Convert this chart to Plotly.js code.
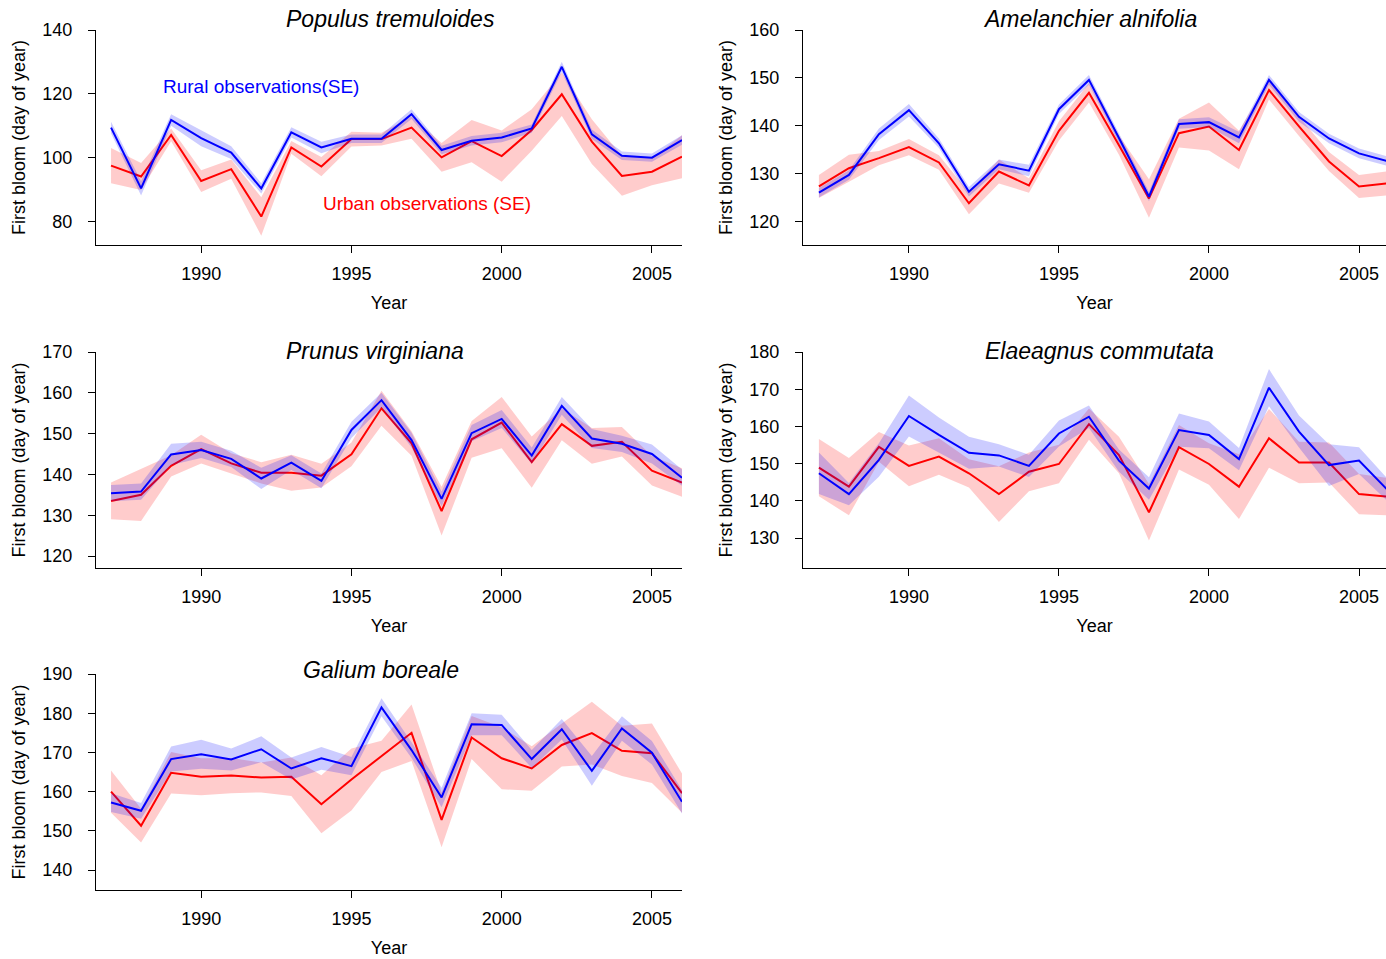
<!DOCTYPE html>
<html><head><meta charset="utf-8">
<script src="https://cdn.plot.ly/plotly-3.0.1.min.js"></script>
<style>html,body{margin:0;padding:0;background:#fff}#chart{width:1386px;height:959px}</style>
</head><body><div id="chart"></div>
<script>
const years = [1987,1988,1989,1990,1991,1992,1993,1994,1995,1996,1997,1998,1999,2000,2001,2002,2003,2004,2005,2006];
const xTicks = [1990,1995,2000,2005];
const speciesNames = ["Populus tremuloides","Amelanchier alnifolia","Prunus virginiana","Elaeagnus commutata","Galium boreale"];

const ruralMean1 = [109.5,90.5,111.9,106.2,101.7,90.5,108.0,103.3,106.0,106.0,113.7,102.5,105.4,106.4,109.2,128.5,107.4,100.7,100.1,105.6];
const ruralSE1   = [1.8,2.2,1.8,2.5,2.0,1.6,1.6,1.8,1.3,1.3,1.5,1.3,1.5,1.5,1.3,1.6,1.5,1.3,1.3,1.5];
const urbanMean1 = [97.6,94.2,107.2,92.8,96.5,81.7,103.3,97.3,105.9,105.9,109.5,100.2,105.3,100.6,108.75,119.9,105.1,94.4,95.7,100.4];
const urbanSE1   = [5.5,4.2,2.0,3.4,3.0,6.0,2.0,3.0,2.3,2.0,3.5,4.5,6.6,8.0,6.5,6.8,7.0,6.2,4.2,6.7];
const yTicks1 = [80,100,120,140];

const ruralMean2 = [126.1,129.8,138.3,143.3,136.4,126.3,132.0,130.7,143.5,149.6,137.5,125.3,140.4,140.8,137.6,149.6,141.9,137.4,134.3,132.6];
const ruralSE2   = [1.0,1.0,1.2,1.3,1.0,1.0,1.0,1.2,1.0,1.0,1.0,1.0,1.0,1.0,1.2,1.0,1.0,1.0,1.0,1.0];
const urbanMean2 = [127.4,131.2,133.3,135.6,132.4,123.9,130.5,127.6,139.0,146.9,136.0,124.9,138.5,139.9,135.0,147.5,139.9,132.6,127.4,128.1];
const urbanSE2   = [2.4,2.8,1.5,1.7,1.5,2.3,2.5,1.5,2.0,2.0,2.0,4.0,3.0,5.0,4.0,2.0,2.0,2.0,2.4,2.5];
const yTicks2 = [120,130,140,150,160];

const ruralMean3 = [135.4,135.8,144.9,146.0,143.8,139.0,142.9,138.4,150.9,158.2,148.4,134.0,150.1,153.6,144.6,156.8,148.8,147.5,145.0,139.2];
const ruralSE3   = [2.0,2.0,2.6,2.0,2.0,2.6,1.8,1.8,2.0,1.8,1.8,1.8,2.0,2.2,2.0,2.2,2.3,2.0,2.3,2.0];
const urbanMean3 = [133.5,135.0,142.1,146.2,142.7,140.4,140.4,139.7,144.9,156.2,147.6,131.0,148.6,152.7,143.0,152.3,147.0,148.0,140.9,138.0];
const urbanSE3   = [4.5,6.4,2.6,3.5,2.5,2.6,4.4,2.9,2.9,4.3,3.0,6.0,4.5,6.3,6.3,3.9,4.4,3.6,3.6,3.5];
const yTicks3 = [120,130,140,150,160,170];

const ruralMean4 = [147.4,141.8,151.0,162.8,157.7,152.9,152.2,149.4,158.1,162.6,150.8,143.3,159.0,157.7,151.2,170.4,158.6,149.6,150.8,142.5];
const ruralSE4   = [5.6,3.0,4.5,5.5,4.7,4.3,3.0,3.0,3.5,3.0,3.0,3.0,4.5,3.6,3.0,5.0,4.3,5.6,3.6,3.0];
const urbanMean4 = [148.9,143.8,154.5,149.4,151.9,147.4,141.8,147.8,149.9,160.6,152.3,136.9,154.4,149.9,143.8,156.8,150.3,150.3,141.8,141.1];
const urbanSE4   = [7.7,7.7,4.0,5.5,4.9,3.8,7.5,5.2,5.2,4.2,4.9,7.6,6.0,5.6,8.7,7.9,5.6,5.4,5.4,5.0];
const yTicks4 = [130,140,150,160,170,180];

const ruralMean5 = [157.2,155.1,168.3,169.5,168.2,170.8,165.9,168.5,166.5,181.5,170.6,158.5,177.2,177.0,168.3,175.9,165.3,176.1,169.9,157.4];
const ruralSE5   = [2.4,2.0,3.2,3.7,2.8,3.3,2.8,2.9,2.3,2.3,2.0,2.5,2.8,2.6,2.3,2.6,3.8,3.1,3.0,3.0];
const urbanMean5 = [160.0,151.3,164.8,163.8,164.1,163.6,163.8,156.8,163.1,169.0,175.0,152.8,173.8,168.5,165.9,171.9,174.9,170.4,169.8,159.6];
const urbanSE5   = [5.4,4.3,5.3,4.7,4.5,3.8,4.9,7.4,7.9,4.0,7.2,7.0,5.5,7.9,5.7,5.5,8.0,6.4,7.6,5.0];
const yTicks5 = [140,150,160,170,180,190];

const W = 1386, H = 959;
const FONT = "Liberation Sans, Arial, sans-serif";

// panel geometry (pixels)
const panels = [
  {name:speciesNames[0], rm:ruralMean1, rs:ruralSE1, um:urbanMean1, us:urbanSE1, yt:yTicks1, yr:[72.8,140], left:96, right:682, top:30, bottom:245, xr:[1986.5,2006], tx:391, ty:19},
  {name:speciesNames[1], rm:ruralMean2, rs:ruralSE2, um:urbanMean2, us:urbanSE2, yt:yTicks2, yr:[115.2,160], left:803, right:1386, top:30, bottom:245, xr:[1986.47,2005.9], tx:1090, ty:19},
  {name:speciesNames[2], rm:ruralMean3, rs:ruralSE3, um:urbanMean3, us:urbanSE3, yt:yTicks3, yr:[117.06,170], left:96, right:682, top:352, bottom:568, xr:[1986.5,2006], tx:375, ty:351},
  {name:speciesNames[3], rm:ruralMean4, rs:ruralSE4, um:urbanMean4, us:urbanSE4, yt:yTicks4, yr:[121.94,180], left:803, right:1386, top:352, bottom:568, xr:[1986.47,2005.9], tx:1099, ty:351},
  {name:speciesNames[4], rm:ruralMean5, rs:ruralSE5, um:urbanMean5, us:urbanSE5, yt:yTicks5, yr:[134.9,190], left:96, right:682, top:674, bottom:890, xr:[1986.5,2006], tx:381, ty:670}
];

const data = [];
const layout = {
  width: W, height: H,
  margin: {l:0, r:0, t:0, b:0},
  paper_bgcolor: "#fff", plot_bgcolor: "rgba(0,0,0,0)",
  showlegend: false,
  font: {family: FONT, size: 18, color: "#000"},
  annotations: []
};

function band(x, m, s) {
  const up = m.map((v,i)=>v+s[i]);
  const lo = m.map((v,i)=>v-s[i]);
  return {x: x.concat(x.slice().reverse()), y: up.concat(lo.slice().reverse())};
}

panels.forEach((p, i) => {
  const k = i + 1;
  const xa = k === 1 ? "x" : "x" + k;
  const ya = k === 1 ? "y" : "y" + k;
  const ub = band(years, p.um, p.us);
  const rb = band(years, p.rm, p.rs);
  data.push({type:"scatter", mode:"lines", x:ub.x, y:ub.y, fill:"toself", fillcolor:"rgba(255,0,0,0.2)", line:{width:0, color:"rgba(0,0,0,0)"}, xaxis:xa, yaxis:ya, hoverinfo:"skip", name:"Urban SE"});
  data.push({type:"scatter", mode:"lines", x:years, y:p.um, line:{color:"#ff0000", width:2}, xaxis:xa, yaxis:ya, name:"Urban observations"});
  data.push({type:"scatter", mode:"lines", x:rb.x, y:rb.y, fill:"toself", fillcolor:"rgba(0,0,255,0.2)", line:{width:0, color:"rgba(0,0,0,0)"}, xaxis:xa, yaxis:ya, hoverinfo:"skip", name:"Rural SE"});
  data.push({type:"scatter", mode:"lines", x:years, y:p.rm, line:{color:"#0000ff", width:2}, xaxis:xa, yaxis:ya, name:"Rural observations"});

  const xkey = k === 1 ? "xaxis" : "xaxis" + k;
  const ykey = k === 1 ? "yaxis" : "yaxis" + k;
  layout[xkey] = {
    domain: [p.left / W, p.right / W],
    anchor: ya, range: p.xr, tickvals: xTicks, ticktext: xTicks.map(String),
    ticks: "outside", ticklen: 7, tickwidth: 1, tickcolor: "#000",
    showline: true, linecolor: "#000", linewidth: 1.2,
    showgrid: false, zeroline: false, ticklabelstandoff: 5,
    tickfont: {family: FONT, size: 18, color: "#000"},
    title: {text: "Year", font: {family: FONT, size: 18, color: "#000"}, standoff: 13}
  };
  layout[ykey] = {
    domain: [1 - p.bottom / H, 1 - p.top / H],
    anchor: xa, range: p.yr, tickvals: p.yt, ticktext: p.yt.map(String),
    ticks: "outside", ticklen: 7, tickwidth: 1, tickcolor: "#000",
    showline: true, linecolor: "#000", linewidth: 1.2,
    showgrid: false, zeroline: false, ticklabelstandoff: 12,
    tickfont: {family: FONT, size: 18, color: "#000"},
    title: {text: "First bloom (day of year)", font: {family: FONT, size: 18, color: "#000"}, standoff: 11}
  };
  layout.annotations.push({
    xref: "paper", yref: "paper", x: p.tx / W, y: 1 - p.ty / H,
    xanchor: "center", yanchor: "middle", showarrow: false,
    text: "<i>" + p.name + "</i>", font: {family: FONT, size: 23, color: "#000"}
  });
});

layout.annotations.push({
  xref: "x", yref: "y", x: 1992.0, y: 122.2, xanchor: "center", yanchor: "middle", showarrow: false,
  text: "Rural observations(SE)", font: {family: FONT, size: 19, color: "#0000ff"}
});
layout.annotations.push({
  xref: "x", yref: "y", x: 1997.5, y: 85.9, xanchor: "center", yanchor: "middle", showarrow: false,
  text: "Urban observations (SE)", font: {family: FONT, size: 19, color: "#ff0000"}
});

Plotly.newPlot("chart", data, layout, {displayModeBar: false, staticPlot: true});
</script></body></html>
